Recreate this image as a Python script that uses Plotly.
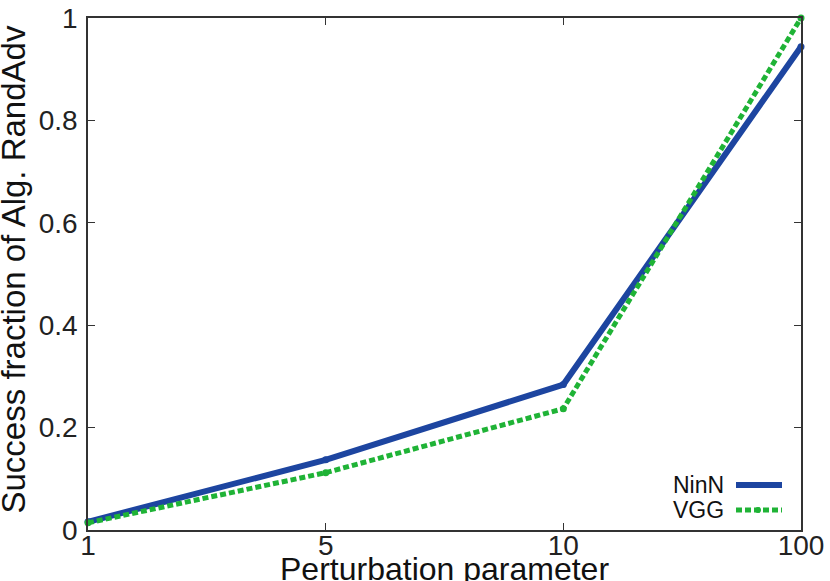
import plotly.graph_objects as go

x_labels = ["1", "5", "10", "100"]
ninn = [0.016, 0.137, 0.284, 0.944]
vgg = [0.014, 0.112, 0.237, 1.0]

x_idx = list(range(len(x_labels)))
blue = "#1d45a0"
green = "#1fb336"
FONT = "Liberation Sans, Arial, Helvetica, sans-serif"
GDASH = "6px,3px"

fig = go.Figure()
fig.add_trace(go.Scatter(x=x_idx, y=ninn, mode="lines+markers", name="NinN",
                         line=dict(color=blue, width=6),
                         marker=dict(color=blue, size=7), showlegend=False,
                         cliponaxis=False))
fig.add_trace(go.Scatter(x=x_idx, y=vgg, mode="lines+markers", name="VGG",
                         line=dict(color=green, width=5, dash=GDASH),
                         marker=dict(color=green, size=7), showlegend=False,
                         cliponaxis=False))

axis_common = dict(showline=True, linecolor="#333333", linewidth=1.5, mirror="ticks",
                   ticks="inside", ticklen=7, tickcolor="#333333", tickwidth=1,
                   showgrid=False, zeroline=False, automargin=False,
                   ticklabeloverflow="allow",
                   tickfont=dict(family=FONT, size=28, color="#222222"))

fig.update_xaxes(range=[0, 3], tickmode="array", tickvals=x_idx, ticktext=x_labels,
                 ticklabelstandoff=-10, **axis_common)
fig.update_yaxes(range=[0, 1], tickmode="array", tickvals=[0, 0.2, 0.4, 0.6, 0.8, 1],
                 ticktext=["0", "0.2", "0.4", "0.6", "0.8", "1"],
                 ticklabelstandoff=3, **axis_common)

# plot area in page px: x 88..801, y 18..530
def px(page_x):
    return (page_x - 88) / 713

def py(page_y):
    return (530 - page_y) / 512

# axis titles
fig.add_annotation(xref="paper", yref="paper", x=0.5, y=py(549), yanchor="top",
                   text="Perturbation parameter", showarrow=False,
                   font=dict(family=FONT, size=32, color="#111111"))
fig.add_annotation(xref="paper", yref="paper", x=px(12.5), y=py(270), xanchor="center",
                   textangle=-90, text="Success fraction of Alg. RandAdv", showarrow=False,
                   font=dict(family=FONT, size=33, color="#111111"))

# custom legend (text left of sample)
leg = [("NinN", blue, "solid", 6, 485), ("VGG", green, GDASH, 5, 510)]
for name, col, dash, w, yy in leg:
    fig.add_annotation(xref="paper", yref="paper", x=px(726), y=py(yy), text=name, showarrow=False,
                       xanchor="right", yanchor="middle", font=dict(family=FONT, size=23, color="#111111"))
    fig.add_shape(type="line", xref="paper", yref="paper", x0=px(736), x1=px(782), y0=py(yy), y1=py(yy),
                  line=dict(color=col, width=w, dash=dash))
    fig.add_shape(type="circle", xref="paper", yref="paper", x0=px(755), x1=px(761),
                  y0=py(yy + 3), y1=py(yy - 3), fillcolor=col, line=dict(width=0))

fig.update_layout(width=830, height=581, margin=dict(l=88, r=29, t=18, b=51),
                  plot_bgcolor="white", paper_bgcolor="white",
                  font=dict(family=FONT))

fig.write_html("out.html", config={"displayModeBar": False},
               post_script="document.body.style.margin='0';document.body.style.overflow='hidden';")
